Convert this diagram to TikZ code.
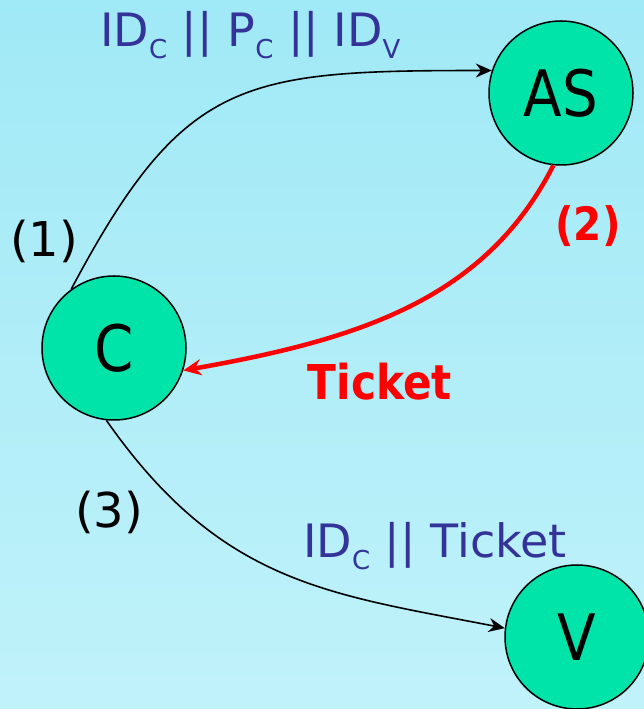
\documentclass[tikz,border=0pt]{standalone}
\usepackage{fontspec}
\setmainfont{DejaVu Sans}
\newfontfamily\narrowsf{DejaVu Sans}[FakeStretch=0.88]
\usepackage{tikz}
\usetikzlibrary{arrows.meta}
\usepackage{xcolor}
\definecolor{bgTop}{RGB}{160, 233, 246}
\definecolor{bgBot}{RGB}{192, 242, 250}
\definecolor{partyFill}{RGB}{0, 228, 170}
\definecolor{msgBlue}{RGB}{51, 51, 153}
\newcommand{\lowsub}[1]{\raisebox{-12pt}{\fontsize{26}{26}\selectfont #1}}

\begin{document}
\begin{tikzpicture}[x=1pt, y=1pt, >=Stealth,
  party/.style={circle, draw=black, line width=1.5pt, fill=partyFill,
    minimum size=144pt, inner sep=0pt, font=\narrowsf\fontsize{64}{64}\selectfont},
  msg/.style={inner sep=0pt, anchor=base west, text=msgBlue,
    font=\fontsize{46}{46}\selectfont},
  stepno/.style={inner sep=0pt, font=\fontsize{48}{48}\selectfont},
  flow/.style={-{Stealth[length=16pt, width=14pt]}, line width=1.6pt},
  reply/.style={-{Stealth[length=18pt, width=16pt]}, line width=4.5pt, red}]

  % background
  \shade[top color=bgTop, bottom color=bgBot] (0,0) rectangle (644,709);
  \useasboundingbox (0,0) rectangle (644,709);

  % parties
  \node[party] (as) at (561, 616) {AS};
  \node[party] (c)  at (114, 361) {C};
  \node[party] (v)  at (577, 72)  {V};

  % (1) request to AS
  \draw[flow] (c.126) .. controls +(62:240) and +(-250,0) .. (as.162);
  \node[msg] (req) at (100, 662) {ID\lowsub{C} || P\lowsub{C} || ID\lowsub{V}};
  \node[stepno] (n1) at (44, 468) {(1)};

  % (2) ticket back to C
  \draw[reply] (as.-96) .. controls +(-117:150) and +(10:180) .. (c.-18);
  \node[stepno, red, font=\narrowsf\fontsize{46}{46}\selectfont\bfseries] (n2) at (588, 483) {(2)};
  \node[inner sep=0pt, anchor=base, red, font=\narrowsf\fontsize{48}{48}\selectfont\bfseries]
    (tkt) at (380, 309) {Ticket};

  % (3) ticket to V
  \draw[flow] (c.-96) .. controls +(-55:200) and +(169:180) .. (v.173);
  \node[msg] (fwd) at (303, 151) {ID\lowsub{C} || Ticket};
  \node[stepno] (n3) at (109, 197) {(3)};
\end{tikzpicture}
\end{document}
